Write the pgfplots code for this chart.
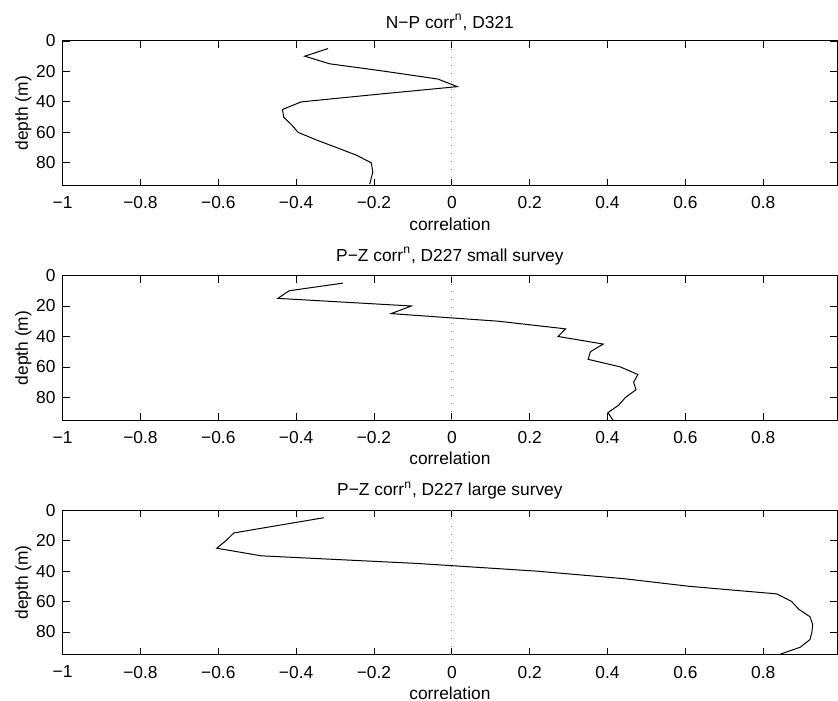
\documentclass[border=0pt]{standalone}
\usepackage{fontspec}
\setmainfont{Liberation Sans}
\usepackage{pgfplots}
\pgfplotsset{compat=1.18}

\pgfplotsset{
  corrpanel/.style={
    scale only axis,
    width=388pt, height=72.5pt,
    xmin=-1, xmax=0.99,
    ymin=0, ymax=95,
    y dir=reverse,
    xtick={-1,-0.8,-0.6,-0.4,-0.2,0,0.2,0.4,0.6,0.8},
    xticklabels={−1,−0.8,−0.6,−0.4,−0.2,0,0.2,0.4,0.6,0.8},
    ytick={0,20,40,60,80},
    yticklabels={0,20,40,60,80},
    tick align=inside,
    major tick length=3.5pt,
    tick style={black, line width=0.4pt},
    axis line style={line width=0.5pt},
    xlabel={correlation},
    ylabel={depth (m)},
    every tick label/.append style={font=\fontsize{8.7}{10}\selectfont},
    xticklabel style={yshift=-2pt},
    label style={font=\fontsize{8.7}{10}\selectfont},
    title style={font=\fontsize{8.7}{10}\selectfont, yshift=-4.2pt},
    xlabel style={yshift=2.5pt},
    ylabel style={yshift=-4.5pt},
  },
  zeroline/.style={gray, line width=0.5pt, dash pattern=on 0.5pt off 3.5pt},
  prof/.style={black, line width=0.5pt, mark=none},
}

\begin{document}
\begin{tikzpicture}

\begin{axis}[corrpanel, at={(0,0)}, title={N−P corr\textsuperscript{n}, D321}]
\addplot[zeroline] coordinates {(0,0) (0,95)};
\addplot[prof] coordinates {
  (-0.318,5) (-0.378,10) (-0.314,15) (-0.170,20) (-0.036,25) (0.014,30)
  (-0.190,35) (-0.387,40) (-0.435,45) (-0.432,50) (-0.412,55) (-0.395,60)
  (-0.348,65) (-0.296,70) (-0.245,75) (-0.207,80) (-0.203,86) (-0.211,94)
};
\end{axis}

\begin{axis}[corrpanel, at={(0,-117.5pt)}, title={P−Z corr\textsuperscript{n}, D227 small survey}]
\addplot[zeroline] coordinates {(0,0) (0,95)};
\addplot[prof] coordinates {
  (-0.280,5) (-0.418,10) (-0.447,15) (-0.104,20) (-0.156,25) (0.120,30)
  (0.292,35) (0.273,40) (0.389,45) (0.356,50) (0.350,55) (0.433,60)
  (0.478,65) (0.467,70) (0.473,75) (0.446,80) (0.429,85) (0.401,90) (0.414,95)
};
\end{axis}

\begin{axis}[corrpanel, at={(0,-235pt)}, title={P−Z corr\textsuperscript{n}, D227 large survey}]
\addplot[zeroline] coordinates {(0,0) (0,95)};
\addplot[prof] coordinates {
  (-0.329,5) (-0.445,10) (-0.560,15) (-0.580,20) (-0.604,25) (-0.490,30)
  (-0.090,35) (0.215,40) (0.442,45) (0.609,50) (0.835,55) (0.873,60)
  (0.891,65) (0.920,70) (0.927,75) (0.925,80) (0.920,85) (0.895,90) (0.839,95)
};
\end{axis}

\pgfresetboundingbox
\path[use as bounding box] (-31.35pt,-258pt) rectangle (388.4pt,93pt);
\end{tikzpicture}
\end{document}
